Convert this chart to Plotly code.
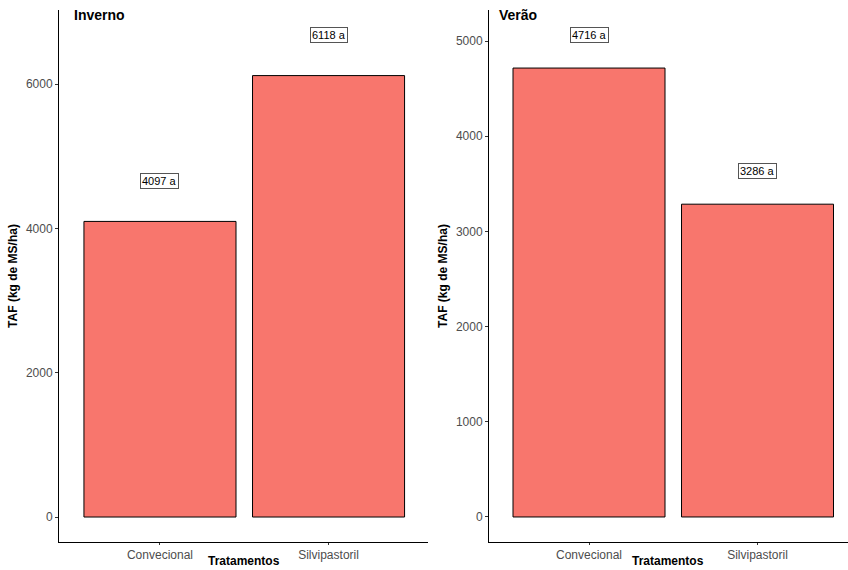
import plotly.graph_objects as go

tratamentos = ["Convecional", "Silvipastoril"]
inverno = [4097, 6118]
verao = [4716, 3286]
letras_inverno = ["a", "a"]
letras_verao = ["a", "a"]
y_ticks_inverno = [0, 2000, 4000, 6000]
y_ticks_verao = [0, 1000, 2000, 3000, 4000, 5000]

FILL = "#F8766D"
FONT = "Liberation Sans, Arial, sans-serif"
GRAY = "#4d4d4d"

fig = go.Figure()
fig.add_trace(go.Bar(x=tratamentos, y=inverno, xaxis="x", yaxis="y",
                     marker=dict(color=FILL, line=dict(color="black", width=1)),
                     showlegend=False, hoverinfo="skip"))
fig.add_trace(go.Bar(x=tratamentos, y=verao, xaxis="x2", yaxis="y2",
                     marker=dict(color=FILL, line=dict(color="black", width=1)),
                     showlegend=False, hoverinfo="skip"))

ybot = (570 - 542) / 570
ytop = (570 - 10) / 570

common_x = dict(showline=True, linecolor="black", linewidth=1, ticks="outside",
                ticklen=2, tickcolor="#333333", showgrid=False, zeroline=False, automargin=False,
                tickfont=dict(family=FONT, size=12, color=GRAY))
common_y = dict(showline=True, linecolor="black", linewidth=1, ticks="outside",
                ticklen=3, tickcolor="#333333", showgrid=False, zeroline=False, automargin=False,
                tickfont=dict(family=FONT, size=12, color=GRAY),
                title=dict(text="<b>TAF (kg de MS/ha)</b>", font=dict(family=FONT, size=12, color="black"), standoff=5))

fig.update_layout(
    width=848, height=570,
    margin=dict(l=0, r=0, t=0, b=0, autoexpand=False),
    paper_bgcolor="white", plot_bgcolor="white",
    bargap=0.098,
    xaxis=dict(domain=[59 / 848, 428 / 848], range=[-0.599, 1.59], anchor="y", **common_x),
    yaxis=dict(domain=[ybot, ytop], range=[-346, 7027], tickvals=y_ticks_inverno, anchor="x", **common_y),
    xaxis2=dict(domain=[489 / 848, 1.0], range=[-0.5935, 1.537], anchor="y2", **common_x),
    yaxis2=dict(domain=[ybot, ytop], range=[-263, 5326], tickvals=y_ticks_verao, anchor="x2", **common_y),
)

annotations = []
off_inv = 560
off_ver = 348
for t, v, l in zip(tratamentos, inverno, letras_inverno):
    annotations.append(dict(x=t, y=v + off_inv, xref="x", yref="y", text=f"{v} {l}", showarrow=False,
                            font=dict(family=FONT, size=11, color="black"), bgcolor="white",
                            bordercolor="#555555", borderwidth=1, borderpad=1))
for t, v, l in zip(tratamentos, verao, letras_verao):
    annotations.append(dict(x=t, y=v + off_ver, xref="x2", yref="y2", text=f"{v} {l}", showarrow=False,
                            font=dict(family=FONT, size=11, color="black"), bgcolor="white",
                            bordercolor="#555555", borderwidth=1, borderpad=1))
annotations.append(dict(x=72 / 848, y=(570 - 15) / 570, xref="paper", yref="paper", text="<b>Inverno</b>",
                        showarrow=False, xanchor="left", yanchor="middle",
                        font=dict(family=FONT, size=14, color="black")))
annotations.append(dict(x=497 / 848, y=(570 - 15) / 570, xref="paper", yref="paper", text="<b>Verão</b>",
                        showarrow=False, xanchor="left", yanchor="middle",
                        font=dict(family=FONT, size=14, color="black")))
for cx in (244, 668):
    annotations.append(dict(x=cx / 848, y=0.0, xref="paper", yref="paper", text="<b>Tratamentos</b>",
                            showarrow=False, xanchor="center", yanchor="bottom", yshift=0,
                            font=dict(family=FONT, size=12, color="black")))
fig.update_layout(annotations=annotations)

fig.write_html("out.html", config={"displayModeBar": False},
               post_script="document.body.style.margin='0';document.body.style.overflow='hidden';")
